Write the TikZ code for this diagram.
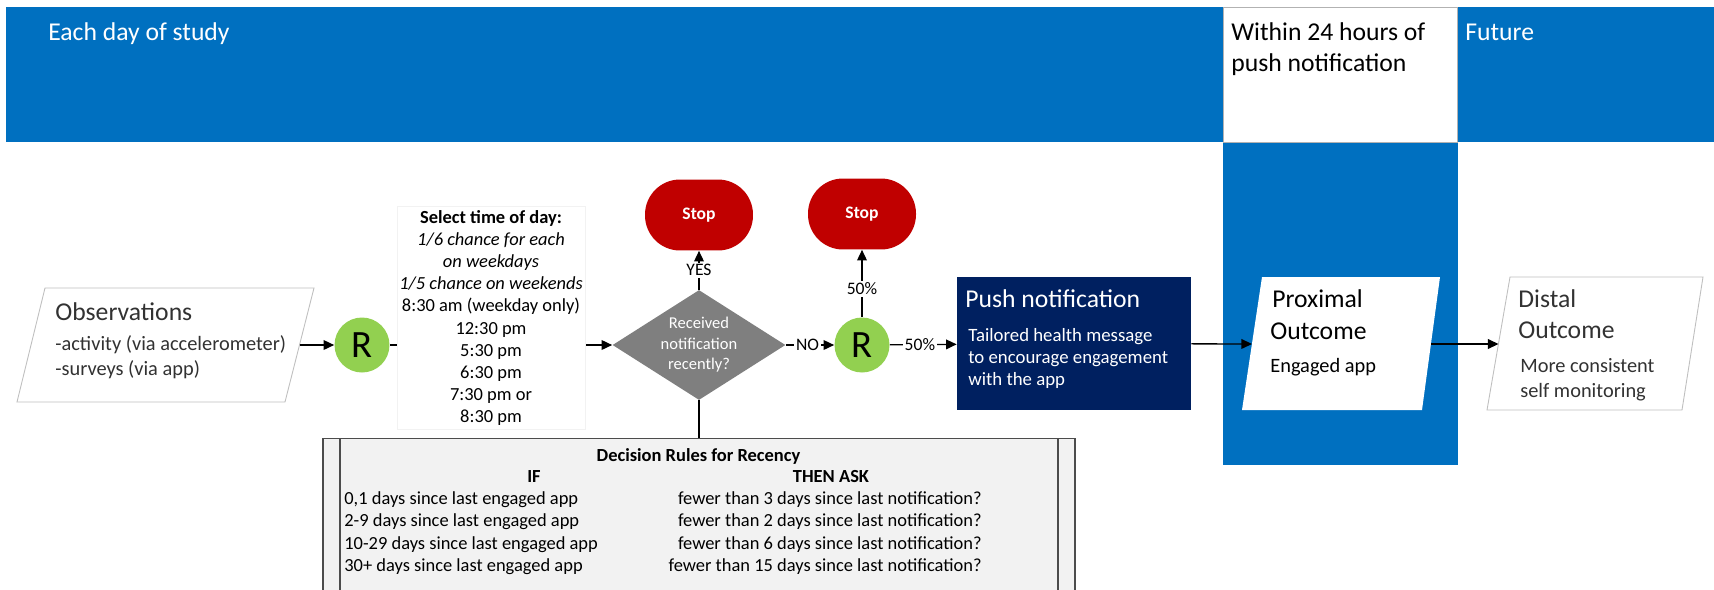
\documentclass[tikz,border=0pt]{standalone}
\usepackage{fontspec}
\setmainfont{Carlito}
\usetikzlibrary{arrows.meta,shapes.geometric,positioning}

\definecolor{bandblue}{RGB}{0,112,192}
\definecolor{rgreen}{RGB}{146,208,80}
\definecolor{stopred}{RGB}{192,0,0}
\definecolor{pushnavy}{RGB}{0,32,96}
\definecolor{decgray}{RGB}{127,127,127}
\definecolor{rulegray}{RGB}{242,242,242}
\definecolor{textgray}{RGB}{50,50,50}

\newcommand{\hdrfont}{\fontsize{14.6}{17.6}\selectfont}
\newcommand{\bdyfont}{\fontsize{11.6}{14.2}\selectfont}
\newcommand{\pshfont}{\fontsize{10.7}{12.6}\selectfont}
\newcommand{\smlfont}{\fontsize{10.5}{12.6}\selectfont}
\newcommand{\decfont}{\fontsize{9.4}{11.7}\selectfont}
\newcommand{\lblfont}{\fontsize{10}{12}\selectfont}
\newcommand{\rfont}{\fontsize{22}{22}\selectfont}

\begin{document}
\begin{tikzpicture}[x=0.02cm, y=-0.02cm,
  arrow/.style={-{Triangle[length=6pt,width=5.5pt]}, line width=0.75pt},
  link/.style={line width=0.75pt},
  lbl/.style={fill=white, inner sep=1pt, font=\lblfont},
  rnode/.style={circle, fill=rgreen, minimum size=1.1cm, inner sep=0pt, font=\rfont},
  stopnode/.style={rectangle, rounded corners=0.7cm, fill=stopred, text=white,
    minimum width=2.16cm, minimum height=1.42cm, font=\lblfont\bfseries},
  iobox/.style={draw=black!25, fill=white, line width=0.5pt},
  ttl/.style={anchor=base west, inner sep=0pt, font=\hdrfont},
  bdy/.style={anchor=base west, inner sep=0pt, font=\bdyfont},
  row/.style={inner sep=0pt, font=\smlfont}]

\useasboundingbox (0,0) rectangle (1714,589);

% Timeline band
\fill[bandblue] (6,7) rectangle (1714,142);
\fill[bandblue] (1223,142) rectangle (1458,465);
\node[draw=black!30, fill=white, minimum width=4.68cm, minimum height=2.7cm,
  anchor=north west, inner sep=0pt] (window) at (1223,7) {};
\node[ttl, text=white] (daylbl) at (48,40) {Each day of study};
\node[ttl] (winlbl) at (1231,40) {Within 24 hours of};
\node[ttl] (winlbl2) at (1231,71) {push notification};
\node[ttl, text=white] (futlbl) at (1465,40) {Future};

% Observations
\draw[iobox] (45,288) -- (314,288) -- (285,402) -- (17,402) -- cycle;
\coordinate (obsE) at (299.5,345);
\node[ttl, text=textgray] (obsttl) at (55,320) {Observations};
\node[bdy, text=textgray] (obs1) at (55,350) {-activity (via accelerometer)};
\node[bdy, text=textgray] (obs2) at (55,375) {-surveys (via app)};

% Randomisation and decision
\node[rnode] (r1) at (362,345) {R};
\node[diamond, fill=decgray, minimum width=3.46cm, minimum height=2.2cm, inner sep=0pt] (dec) at (699,345) {};
\node[text=white, align=center, font=\decfont] (dectxt) at (dec) {Received\\notification\\recently?};
\node[stopnode] (stop1) at (699,215) {Stop};
\node[rnode] (r2) at (862,345) {R};
\node[stopnode] (stop2) at (862,214) {Stop};

\draw[arrow] (obsE) -- (r1);
\draw[arrow] (r1) -- (dec);
\draw[arrow] (dec) -- node[lbl]{YES} (stop1);
\draw[arrow] (dec) -- node[lbl, pos=0.45]{NO} (r2);
\draw[arrow] (r2) -- node[lbl, pos=0.42]{50\%} (stop2);

% Time of day
\node[fill=white, draw=black!5, minimum width=3.76cm, minimum height=4.46cm,
  align=center, font=\smlfont, inner sep=0pt] (times) at (491,318)
  {\textbf{Select time of day:}\\ \textit{1/6 chance for each}\\ \textit{on weekdays}\\
   \textit{1/5 chance on weekends}\\ 8:30 am (weekday only)\\ 12:30 pm\\ 5:30 pm\\
   6:30 pm\\ 7:30 pm or\\ 8:30 pm};

% Push notification
\node[fill=pushnavy, minimum width=4.68cm, minimum height=2.66cm, inner sep=0pt] (push) at (1074,343.5) {};
\node[ttl, text=white] (pushttl) at (965,307) {Push notification};
\node[anchor=north west, align=left, text=white, font=\pshfont, inner sep=0pt] (pushtxt) at (968,328)
  {Tailored health message\\ to encourage engagement\\ with the app};
\draw[arrow] (r2) -- node[lbl, pos=0.45]{50\%} (push);

% Outcomes
\fill[white] (1262,277) -- (1440,277) -- (1422,410) -- (1242,410) -- cycle;
\coordinate (proxW) at (1252,344);
\coordinate (proxE) at (1431,344);
\node[ttl] (proxttl) at (1272,307) {Proximal};
\node[ttl] (proxttl2) at (1270,339) {Outcome};
\node[bdy] (proxtxt) at (1270,372) {Engaged app};
\draw[iobox] (1510,277) -- (1703,277) -- (1682,410) -- (1487,410) -- cycle;
\coordinate (distW) at (1498.5,344);
\node[ttl, text=textgray] (distttl) at (1518,307) {Distal};
\node[ttl, text=textgray] (distttl2) at (1518,338) {Outcome};
\node[bdy, text=textgray] (dist1) at (1520,372) {More consistent};
\node[bdy, text=textgray] (dist2) at (1520,397) {self monitoring};
\draw[arrow] (push) -- (proxW);
\draw[arrow] (proxE) -- (distW);

% Decision rules
\node[draw=black!70, fill=rulegray, line width=0.8pt, minimum width=15.04cm, minimum height=3.6cm,
  anchor=north, inner sep=0pt] (rules) at (699,438) {};
\draw[black!70, line width=0.8pt] (340,438) -- (340,619);
\draw[black!70, line width=0.8pt] (1058,438) -- (1058,619);
\draw[link] (dec) -- (rules);
\node[row, anchor=base, font=\smlfont\bfseries] (rttl) at (698.5,461) {Decision Rules for Recency};
\node[row, anchor=base, font=\smlfont\bfseries] (rif) at (534,482) {IF};
\node[row, anchor=base, font=\smlfont\bfseries] (rthen) at (831,482) {THEN ASK};
\node[row, anchor=base west] (if1) at (344,504) {0,1 days since last engaged app};
\node[row, anchor=base west] (if2) at (344,526) {2-9 days since last engaged app};
\node[row, anchor=base west] (if3) at (344,549) {10-29 days since last engaged app};
\node[row, anchor=base west] (if4) at (344,571) {30+ days since last engaged app};
\node[row, anchor=base east] (ask1) at (982,504) {fewer than 3 days since last notification?};
\node[row, anchor=base east] (ask2) at (982,526) {fewer than 2 days since last notification?};
\node[row, anchor=base east] (ask3) at (982,549) {fewer than 6 days since last notification?};
\node[row, anchor=base east] (ask4) at (982,571) {fewer than 15 days since last notification?};

\end{tikzpicture}
\end{document}
